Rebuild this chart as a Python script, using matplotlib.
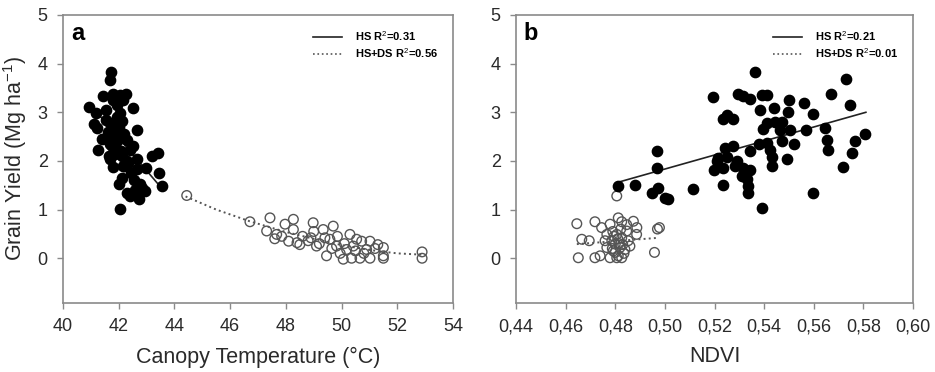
import numpy as np
import matplotlib
matplotlib.use('Agg')
import matplotlib.pyplot as plt
from matplotlib.lines import Line2D

plt.rcParams['font.family'] = ['Liberation Sans', 'DejaVu Sans']
plt.rcParams['mathtext.fontset'] = 'custom'
plt.rcParams['mathtext.rm'] = 'Liberation Sans'

# panel a: canopy temperature vs grain yield
ct_hs = [41.72, 41.69, 41.45, 41.81, 42.05, 42.25, 42.16, 40.94, 41.18, 41.53,
         42.52, 42.05, 41.21, 41.69, 42.10, 42.64, 41.86, 41.63, 42.29, 41.27,
         41.87, 42.40, 41.69, 42.10, 42.64, 43.18, 43.42, 41.81, 42.14, 42.98,
         42.65, 43.46, 42.10, 42.02, 43.54, 42.76, 42.29, 42.94, 42.71, 42.40,
         42.05, 41.95, 41.60, 41.75, 41.90, 42.00, 41.85, 41.70, 42.20, 42.35,
         41.95, 41.80, 42.45, 42.55, 41.40, 41.55, 42.30, 42.85, 41.10, 42.60,
         41.92, 42.08, 41.65, 42.20, 42.50]
gy_hs_a = [3.83, 3.67, 3.34, 3.38, 3.36, 3.37, 3.26, 3.10, 2.99, 3.05,
           3.09, 2.99, 2.68, 2.78, 2.82, 2.64, 2.59, 2.44, 2.44, 2.22,
           2.27, 2.23, 2.03, 2.10, 2.03, 2.10, 2.17, 1.88, 1.89, 1.86,
           1.83, 1.76, 1.65, 1.52, 1.48, 1.52, 1.35, 1.38, 1.21, 1.28,
           1.02, 2.90, 2.60, 2.30, 2.50, 2.70, 2.15, 2.35, 2.55, 1.95,
           3.15, 3.25, 1.75, 1.60, 2.45, 2.85, 2.00, 1.45, 2.75, 1.40,
           2.40, 2.20, 2.10, 1.90, 2.30]
ct_ds = [44.44, 46.71, 47.43, 47.31, 47.67, 47.97, 48.27, 48.10, 47.60, 48.27,
         48.40, 48.98, 48.80, 49.10, 49.34, 49.70, 49.46, 49.58, 49.82, 50.06,
         50.30, 50.18, 50.42, 50.36, 50.66, 50.72, 51.02, 51.02, 50.90, 51.50,
         51.50, 51.50, 52.89, 52.89, 49.40, 48.90, 50.54, 49.20, 49.95, 50.80,
         48.60, 49.00, 50.10, 51.20, 47.85, 48.50, 49.65, 50.50, 51.30, 49.85]
gy_ds_a = [1.29, 0.75, 0.83, 0.56, 0.49, 0.70, 0.80, 0.35, 0.40, 0.59,
           0.32, 0.73, 0.36, 0.25, 0.59, 0.66, 0.05, 0.39, 0.25, -0.02,
           0.49, 0.18, 0.25, 0.00, 0.00, 0.35, 0.35, 0.00, 0.18, 0.22,
           0.05, 0.00, 0.13, 0.00, 0.42, 0.42, 0.39, 0.30, 0.10, 0.10,
           0.45, 0.55, 0.30, 0.20, 0.45, 0.28, 0.20, 0.15, 0.28, 0.45]
fit_a_hs_x = [41.33, 43.48]
fit_a_hs_y = [2.92, 1.48]
fit_a_all_x = [44.4, 45.5, 46.7, 48.0, 49.0, 50.0, 51.0, 52.0, 53.0]
fit_a_all_y = [1.27, 1.00, 0.76, 0.54, 0.40, 0.27, 0.17, 0.10, 0.07]

# panel b: NDVI vs grain yield
ndvi_hs = [0.5363, 0.5730, 0.5195, 0.5296, 0.5316, 0.5343, 0.5390, 0.5410, 0.5502, 0.5562,
           0.5669, 0.5744, 0.5383, 0.5441, 0.5495, 0.5598, 0.5236, 0.5249, 0.5273, 0.5410,
           0.5444, 0.5470, 0.5396, 0.5463, 0.5504, 0.5569, 0.5645, 0.5807, 0.5471, 0.5381,
           0.5410, 0.5520, 0.5652, 0.5767, 0.5242, 0.5276, 0.5343, 0.5424, 0.5659, 0.5753,
           0.5215, 0.5249, 0.5431, 0.5491, 0.5208, 0.5289, 0.5236, 0.5283, 0.5316, 0.5343,
           0.5431, 0.5198, 0.5718, 0.5310, 0.5330, 0.5336, 0.5233, 0.5336, 0.5598, 0.5390,
           0.5115, 0.4967, 0.4967, 0.4810, 0.4880, 0.4947, 0.4974, 0.5001, 0.5014]
gy_hs_b = [3.82, 3.68, 3.31, 3.37, 3.34, 3.28, 3.36, 3.36, 3.26, 3.19,
           3.38, 3.14, 3.05, 3.09, 3.00, 2.96, 2.86, 2.95, 2.86, 2.78,
           2.81, 2.81, 2.66, 2.64, 2.63, 2.64, 2.68, 2.55, 2.40, 2.34,
           2.36, 2.34, 2.44, 2.42, 2.27, 2.30, 2.20, 2.23, 2.22, 2.17,
           2.06, 2.09, 2.09, 2.04, 1.99, 1.99, 1.85, 1.89, 1.85, 1.82,
           1.89, 1.82, 1.88, 1.69, 1.62, 1.48, 1.50, 1.35, 1.35, 1.04,
           1.43, 2.20, 1.85, 1.48, 1.50, 1.35, 1.45, 1.24, 1.21]
ndvi_ds = [0.4806, 0.4645, 0.4718, 0.4665, 0.4695, 0.4651, 0.4718, 0.4739, 0.4745, 0.4779,
           0.4812, 0.4826, 0.4873, 0.4887, 0.4886, 0.4978, 0.4958, 0.4766, 0.4786, 0.4806,
           0.4826, 0.4846, 0.4852, 0.4766, 0.4792, 0.4819, 0.4839, 0.4859, 0.4779, 0.4806,
           0.4826, 0.4800, 0.4846, 0.4759, 0.4970, 0.4790, 0.4815, 0.4835, 0.4800, 0.4810,
           0.4795, 0.4830, 0.4812, 0.4788, 0.4822]
gy_ds_b = [1.28, 0.71, 0.75, 0.39, 0.36, 0.01, 0.01, 0.05, 0.63, 0.70,
           0.83, 0.75, 0.76, 0.63, 0.49, 0.63, 0.12, 0.49, 0.36, 0.49,
           0.42, 0.56, 0.36, 0.22, 0.15, 0.22, 0.18, 0.25, 0.01, 0.01,
           0.01, 0.29, 0.69, 0.36, 0.60, 0.55, 0.30, 0.10, 0.12, 0.40,
           0.45, 0.28, 0.05, 0.20, 0.60]
fit_b_hs_x = [0.481, 0.581]
fit_b_hs_y = [1.56, 3.00]
fit_b_all_x = [0.4645, 0.4974]
fit_b_all_y = [0.29, 0.42]

frame_col = '#8a8a8a'
text_col = '#2a2a2a'


def style_axes(ax):
    for sp in ax.spines.values():
        sp.set_color(frame_col)
        sp.set_linewidth(1.2)
    ax.tick_params(direction='out', length=4, width=1, color=frame_col,
                   labelsize=13, labelcolor=text_col, pad=7)
    ax.set_ylim(-0.92, 5)
    ax.set_yticks([0, 1, 2, 3, 4, 5])


fig = plt.figure(figsize=(9.35, 3.72), dpi=100)
ax1 = fig.add_axes([0.0674, 0.1855, 0.4171, 0.7742])
ax2 = fig.add_axes([0.5519, 0.1855, 0.4246, 0.7742])

# panel a
ax1.plot(fit_a_hs_x, fit_a_hs_y, '-', color='#222222', lw=1.2, zorder=1)
ax1.plot(fit_a_all_x, fit_a_all_y, ':', color='#555555', lw=1.4, zorder=1)
ax1.scatter(ct_ds, gy_ds_a, s=48, facecolors='none', edgecolors='#555555',
            linewidths=1.0, zorder=2)
ax1.scatter(ct_hs, gy_hs_a, s=55, color='black', zorder=3)
style_axes(ax1)
ax1.set_xlim(40, 54)
ax1.set_xticks(range(40, 55, 2))
ax1.set_xlabel('Canopy Temperature (°C)', fontsize=15.5, color=text_col, labelpad=8)
ax1.set_ylabel('Grain Yield (Mg ha$^{-1}$)', fontsize=15.5, color=text_col, labelpad=6)
ax1.text(0.02, 0.975, 'a', transform=ax1.transAxes, fontsize=17,
         fontweight='bold', va='top', ha='left')

# panel b
ax2.plot(fit_b_hs_x, fit_b_hs_y, '-', color='#222222', lw=1.2, zorder=1)
ax2.plot(fit_b_all_x, fit_b_all_y, ':', color='#555555', lw=1.4, zorder=1)
ax2.scatter(ndvi_ds, gy_ds_b, s=48, facecolors='none', edgecolors='#555555',
            linewidths=1.0, zorder=2)
ax2.scatter(ndvi_hs, gy_hs_b, s=55, color='black', zorder=3)
style_axes(ax2)
ax2.set_xlim(0.44, 0.60)
xt = np.arange(0.44, 0.601, 0.02)
ax2.set_xticks(xt)
ax2.set_xticklabels([f'{v:.2f}'.replace('.', ',') for v in xt])
ax2.set_xlabel('NDVI', fontsize=15.5, color=text_col, labelpad=8)
ax2.text(0.02, 0.975, 'b', transform=ax2.transAxes, fontsize=17,
         fontweight='bold', va='top', ha='left')

for ax, labels in [(ax1, ['HS R$^2$=0.31', 'HS+DS R$^2$=0.56']),
                   (ax2, ['HS R$^2$=0.21', 'HS+DS R$^2$=0.01'])]:
    handles = [Line2D([], [], color='#222222', lw=1.2, ls='-'),
               Line2D([], [], color='#555555', lw=1.2, ls=':')]
    ax.legend(handles, labels, loc='upper right', frameon=False,
              prop={'size': 8, 'weight': 'bold'}, handlelength=2.6,
              handletextpad=1.2, labelspacing=0.3, borderaxespad=0.6,
              bbox_to_anchor=(0.99, 0.99))

fig.savefig('out.png', dpi=100)
